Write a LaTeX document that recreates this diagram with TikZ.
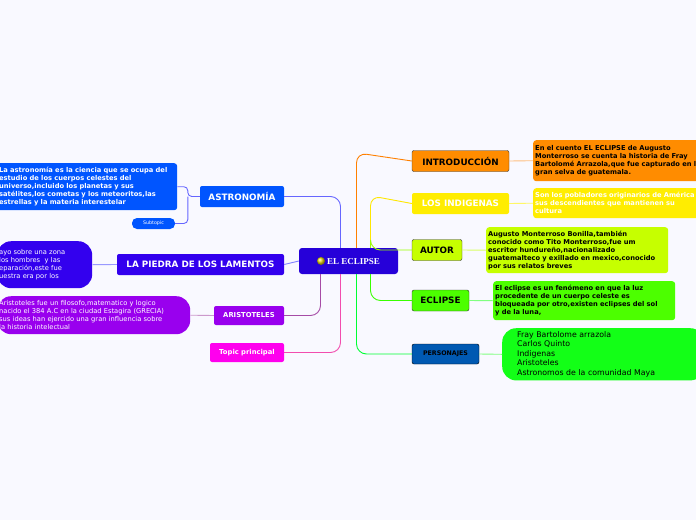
\documentclass[tikz,border=0pt]{standalone}
\usepackage{fontspec}
\setmainfont{DejaVu Sans}
\newfontfamily\serifb{Liberation Serif}
\begin{document}
\begin{tikzpicture}[x=1pt,y=-1pt,
 box/.style={rounded corners=3pt,inner sep=2pt,align=left,font=\fontsize{6.7}{8}\selectfont\bfseries},
 topic/.style={rounded corners=2pt,font=\fontsize{8.8}{10}\selectfont\bfseries,inner sep=0pt,minimum height=21pt},
 ln/.style={line width=0.9pt,rounded corners=10pt}]
\fill[white!92!blue!30] (0,0) rectangle (696,520);
\useasboundingbox (0,0) rectangle (696,520);
% center
\node[fill=blue!70!violet,rounded corners=3pt,minimum width=99pt,minimum height=26pt,text=white,font=\serifb\fontsize{9}{10}\selectfont\bfseries] (c) at (348.5,261) {\tikz[x=1pt,y=1pt]{\shade[ball color=yellow!70!brown] (0,0) circle (4);}\ EL ECLIPSE};
% right topics
\node[topic,fill=orange!90!yellow,draw=black!80,minimum width=97pt] (intro) at (460.5,161) {INTRODUCCIÓN};
\node[topic,fill=yellow!95!orange,text=white,minimum width=97pt] (ind) at (460.5,203.5) {LOS INDIGENAS};
\node[topic,fill=lime!90!yellow,draw=black!80,minimum width=50pt] (aut) at (437,250) {AUTOR};
\node[topic,fill=green!60!lime,draw=black!80,minimum width=57pt] (ecl) at (440.5,300.5) {ECLIPSE};
\node[topic,fill=blue!50!cyan!70!black,draw=black,minimum width=67pt,minimum height=20pt,font=\fontsize{6.3}{7}\selectfont\bfseries] (per) at (445.5,354) {PERSONAJES};
% right texts
\node[box,fill=orange!90!yellow,anchor=north west,minimum height=41pt,text width=185pt] (introt) at (533,140) {En el cuento EL ECLIPSE de Augusto\\Monterroso se cuenta la historia de Fray\\Bartolomé Arrazola,que fue capturado en la\\gran selva de guatemala.};
\node[box,fill=yellow!95!orange,text=white,anchor=north west,minimum height=30pt,text width=185pt] (indt) at (533,188) {Son los pobladores originarios de América y\\sus descendientes que mantienen su\\cultura};
\node[box,fill=lime!90!yellow,anchor=north west,minimum height=46pt,text width=178pt] (autt) at (486,227) {Augusto Monterroso Bonilla,también\\conocido como Tito Monterroso,fue um\\escritor hundureño,nacionalizado\\guatemalteco y exillado en mexico,conocido\\por sus relatos breves};
\node[box,fill=green!60!lime,anchor=north west,minimum height=39pt,text width=178pt] (eclt) at (493,281) {El eclipse es un fenómeno en que la luz\\procedente de un cuerpo celeste es\\bloqueada por otro,existen eclipses del sol\\y de la luna,};
\node[fill=green!90!cyan!90!lime,rounded corners=14pt,anchor=north west,minimum height=52pt,text width=172pt,align=left,inner xsep=15pt,font=\fontsize{7.8}{9.5}\selectfont] (pert) at (502,328) {Fray Bartolome arrazola\\Carlos Quinto\\Indigenas\\Aristoteles\\Astronomos de la comunidad Maya};
% left topics
\node[topic,text=white,minimum width=84pt,fill={rgb,255:red,0;green,85;blue,255}] (ast) at (242,196.5) {ASTRONOMÍA};
\node[topic,fill={rgb,255:red,51;green,0;blue,238},text=white,minimum width=167pt] (pie) at (200.5,264.5) {LA PIEDRA DE LOS LAMENTOS};
\node[topic,fill={rgb,255:red,153;green,0;blue,238},text=white,minimum width=70pt,minimum height=19pt,font=\fontsize{6.8}{8}\selectfont\bfseries] (ari) at (249,315.5) {ARISTOTELES};
\node[topic,fill={rgb,255:red,255;green,0;blue,238},text=white,minimum width=74pt,minimum height=19pt,font=\fontsize{6.8}{8}\selectfont\bfseries] (top) at (247,352.5) {Topic principal};
% left texts
\node[box,fill={rgb,255:red,0;green,85;blue,255},text=white,anchor=north west,minimum height=47pt,text width=176pt] (astt) at (-3,163) {La astronomía es la ciencia que se ocupa del\\estudio de los cuerpos celestes del\\universo,incluido los planetas y sus\\satélites,los cometas y los meteoritos,las\\estrellas y la materia interestelar};
\node[fill={rgb,255:red,0;green,85;blue,255},rounded corners=5pt,text=white,minimum width=43pt,minimum height=11pt,inner sep=0pt,font=\fontsize{4.8}{5}\selectfont] (sub) at (153.5,223.5) {Subtopic};
\node[box,fill={rgb,255:red,51;green,0;blue,238},text=white,anchor=north west,minimum height=47pt,text width=91pt,rounded corners=14pt,font=\fontsize{6.7}{8.2}\selectfont] (piet) at (-3,241) {ayo sobre una zona\\los hombres\ \ y las\\eparación,este fue\\uestra era por los};
\node[box,fill={rgb,255:red,153;green,0;blue,238},text=white,anchor=north west,minimum height=38pt,text width=189pt,rounded corners=14pt,font=\fontsize{6.7}{8}\selectfont] (arit) at (-3,296) {Aristoteles fue un filosofo,matematico y logico\\nacido el 384 A.C en la ciudad Estagira (GRECIA)\\sus ideas han ejercido una gran influencia sobre\\la historia intelectual};
% connectors right
\draw[ln,orange] (c.north)++(8,0) -- ++(0,-95) -- (intro.west);
\draw[ln,yellow!90!orange] ([xshift=22pt]c.north) -- ++(0,-52) -- (ind.west);
\draw[ln,lime!80!green] ([xshift=22pt]c.north) |- (aut.west);
\draw[ln,green!70!lime] ([xshift=22pt]c.south) |- (ecl.west);
\draw[ln,green!80!cyan] ([xshift=8pt]c.south) |- (per.west);
\draw[ln,orange!50] (intro.east) -- (introt.west);
\draw[ln,yellow!60] (ind.east) -- (indt.west);
\draw[ln,lime!60] (aut.east) -- (autt.west);
\draw[ln,green!50] (ecl.east) -- (eclt.west);
\draw[ln,green!50] (per.east) -- (pert.west);
% connectors left
\draw[ln,blue!60] (ast.east) -| ([xshift=-8pt]c.north);
\draw[ln,blue!50] (pie.east) -- (c.west);
\draw[ln,violet!70] (ari.east) -| ([xshift=-28pt]c.south);
\draw[ln,magenta!70] (top.east) -| ([xshift=-8pt]c.south);
\draw[ln,blue!60,rounded corners=4pt] (ast.west) -- ++(-12,0) coordinate (k) |- (astt.east);
\draw[ln,blue!60,rounded corners=4pt] (k) |- (sub.east);
\draw[ln,blue!40] (pie.west) -- (piet.east);
\draw[ln,violet!40] (ari.west) -- (arit.east);
\end{tikzpicture}
\end{document}
